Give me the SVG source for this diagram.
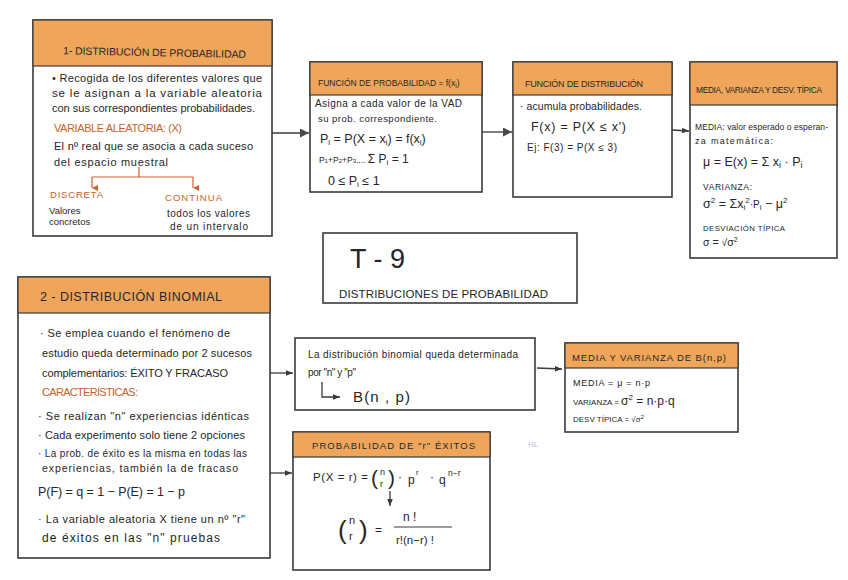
<svg xmlns="http://www.w3.org/2000/svg" width="848" height="580" viewBox="0 0 848 580">
<style>
  text { font-family: "Liberation Sans", "DejaVu Sans", sans-serif; fill: #262626; }
  .box { fill: #ffffff; stroke: #3a3a3a; stroke-width: 1.6; }
  .hdr { fill: #f0a65a; stroke: #3a3a3a; stroke-width: 1.2; }
  .b { font-size: 11px; }
  .s { font-size: 9.5px; }
  .m { font-size: 12px; }
  .or { fill: #c8622a; }
  .con { stroke: #3a3a3a; stroke-width: 1.3; fill: none; }
  .tree { stroke: #c8622a; stroke-width: 1.2; fill: none; }
</style>
<defs>
  <marker id="big" viewBox="0 0 10 10" refX="10" refY="5" markerWidth="9" markerHeight="9" markerUnits="userSpaceOnUse" orient="auto">
    <path d="M0,0 L10,5 L0,10 z" fill="#4a4a4a"/>
  </marker>
  <marker id="sm" viewBox="0 0 10 10" refX="10" refY="5" markerWidth="7" markerHeight="7" markerUnits="userSpaceOnUse" orient="auto">
    <path d="M0,1 L10,5 L0,9 z" fill="#3a3a3a"/>
  </marker>
  <marker id="om" viewBox="0 0 10 10" refX="5" refY="10" markerWidth="6" markerHeight="6" markerUnits="userSpaceOnUse" orient="auto-start-reverse">
    <path d="M0,0 L10,0 L5,10 z" fill="#c8622a"/>
  </marker>
</defs>
<rect width="848" height="580" fill="#ffffff"/>

<g id="connectors">
  <line class="con" x1="272" y1="133" x2="309" y2="133" marker-end="url(#big)"/>
  <line class="con" x1="482" y1="132" x2="512" y2="132" marker-end="url(#big)"/>
  <line class="con" x1="672" y1="130" x2="689" y2="131" marker-end="url(#sm)"/>
  <line class="con" x1="270" y1="373" x2="293" y2="373" marker-end="url(#sm)"/>
  <line class="con" x1="270" y1="473" x2="292" y2="473" marker-end="url(#sm)"/>
  <line class="con" x1="537" y1="368" x2="562" y2="369" marker-end="url(#sm)"/>
</g>

<g id="n1">
  <rect class="box" x="33" y="20" width="239" height="216"/>
  <rect class="hdr" x="33" y="20" width="239" height="46"/>
  <text x="63" y="56" font-size="10.5" textLength="183" lengthAdjust="spacing" transform="rotate(1.2 150 55)">1- DISTRIBUCIÓN DE PROBABILIDAD</text>
  <text x="52" y="82" class="b" textLength="210" lengthAdjust="spacing">• Recogida de los diferentes valores que</text>
  <text x="52" y="97" font-size="11.5" textLength="210" lengthAdjust="spacing">se le asignan a la variable aleatoria</text>
  <text x="52" y="112" class="b" textLength="203" lengthAdjust="spacing">con sus correspondientes probabilidades.</text>
  <text x="54" y="132" class="b or" textLength="128" lengthAdjust="spacing">VARIABLE ALEATORIA: (X)</text>
  <text x="54" y="150" class="b" textLength="199" lengthAdjust="spacing">El nº real que se asocia a cada suceso</text>
  <text x="54" y="166" class="b" textLength="114" lengthAdjust="spacing">del espacio muestral</text>
  <path class="tree" d="M139,167 V177 M92,177 H193"/>
  <line class="tree" x1="92" y1="177" x2="92" y2="188" marker-end="url(#om)"/>
  <line class="tree" x1="193" y1="177" x2="193" y2="188" marker-end="url(#om)"/>
  <text x="50" y="198" class="s or" textLength="53" lengthAdjust="spacing">DISCRETA</text>
  <text x="165" y="201" class="s or" textLength="57" lengthAdjust="spacing">CONTINUA</text>
  <text x="49" y="214" class="s">Valores</text>
  <text x="49" y="225" class="s">concretos</text>
  <text x="167" y="217" font-size="10" textLength="83" lengthAdjust="spacing">todos los valores</text>
  <text x="170" y="230" font-size="10" textLength="78" lengthAdjust="spacing">de un intervalo</text>
</g>

<g id="n2">
  <rect class="box" x="310" y="62" width="172" height="130"/>
  <rect class="hdr" x="310" y="62" width="172" height="33"/>
  <text x="318" y="86" font-size="8.5">FUNCIÓN DE PROBABILIDAD  =  f(x<tspan font-size="6.5" dy="2">i</tspan><tspan dy="-2">)</tspan></text>
  <text x="315" y="107" font-size="10" textLength="147" lengthAdjust="spacing">Asigna a cada valor de la VAD</text>
  <text x="318" y="122" class="s" textLength="119" lengthAdjust="spacing">su prob. correspondiente.</text>
  <text x="320" y="143" font-size="12.5">P<tspan font-size="8" dy="2">i</tspan><tspan dy="-2">  =  P(X = x</tspan><tspan font-size="8" dy="2">i</tspan><tspan dy="-2">) = f(x</tspan><tspan font-size="8" dy="2">i</tspan><tspan dy="-2">)</tspan></text>
  <text x="319" y="163" font-size="8.5">P<tspan font-size="6">1</tspan>+P<tspan font-size="6">2</tspan>+P<tspan font-size="6">3</tspan>....    <tspan font-size="12">Σ P</tspan><tspan font-size="8" dy="2">i</tspan><tspan font-size="12" dy="-2"> = 1</tspan></text>
  <text x="328" y="185" font-size="12.5">0 ≤  P<tspan font-size="8" dy="2">i</tspan><tspan dy="-2">  ≤ 1</tspan></text>
</g>

<g id="n3">
  <rect class="box" x="513" y="62" width="159" height="135"/>
  <rect class="hdr" x="513" y="62" width="159" height="33"/>
  <text x="525" y="87" font-size="9" textLength="118" lengthAdjust="spacing">FUNCIÓN DE DISTRIBUCIÓN</text>
  <text x="520" y="110" font-size="10.5" textLength="122" lengthAdjust="spacing">· acumula probabilidades.</text>
  <text x="531" y="131" font-size="12.5" textLength="95" lengthAdjust="spacing">F(x) = P(X ≤ x')</text>
  <text x="527" y="151" font-size="10" textLength="90" lengthAdjust="spacing">Ej: F(3) = P(X ≤ 3)</text>
</g>

<g id="n4">
  <rect class="box" x="690" y="62" width="147" height="196"/>
  <rect class="hdr" x="690" y="62" width="147" height="43"/>
  <text x="696" y="93" font-size="8.3" textLength="126" lengthAdjust="spacing">MEDIA, VARIANZA Y DESV. TÍPICA</text>
  <text x="695" y="130" font-size="8.5" textLength="133" lengthAdjust="spacing">MEDIA: valor esperado o esperan-</text>
  <text x="695" y="144" font-size="9" textLength="78" lengthAdjust="spacing">za matemática:</text>
  <text x="703" y="166" font-size="12.5">μ = E(x) =  Σ  x<tspan font-size="9" dy="2">i</tspan><tspan dy="-2"> · P</tspan><tspan font-size="9" dy="2">i</tspan></text>
  <text x="703" y="190" font-size="8.5" textLength="49" lengthAdjust="spacing">VARIANZA:</text>
  <text x="703" y="208" font-size="12.5">σ<tspan font-size="8" dy="-5">2</tspan><tspan dy="5"> = Σx</tspan><tspan font-size="8" dy="2">i</tspan><tspan font-size="8" dy="-7">2</tspan><tspan font-size="10" dy="5">·P</tspan><tspan font-size="8" dy="2">i</tspan><tspan dy="-2">  − μ</tspan><tspan font-size="8" dy="-5">2</tspan></text>
  <text x="703" y="231" font-size="7.8" textLength="82" lengthAdjust="spacing">DESVIACIÓN TÍPICA</text>
  <text x="703" y="246" font-size="10.5">σ = √σ<tspan font-size="7" dy="-4">2</tspan></text>
</g>

<g id="n5">
  <rect class="box" x="323" y="233" width="254" height="70"/>
  <text x="350" y="268" font-size="27">T - 9</text>
  <text x="339" y="298" font-size="11.5" textLength="209" lengthAdjust="spacing">DISTRIBUCIONES DE PROBABILIDAD</text>
</g>

<g id="n6">
  <rect class="box" x="18" y="277" width="252" height="281"/>
  <rect class="hdr" x="18" y="277" width="252" height="36"/>
  <text x="40" y="301" font-size="12.5" textLength="182" lengthAdjust="spacing">2 - DISTRIBUCIÓN BINOMIAL</text>
  <text x="40" y="337" class="b" textLength="190" lengthAdjust="spacing">· Se emplea cuando el fenómeno de</text>
  <text x="42" y="357" class="b" textLength="210" lengthAdjust="spacing">estudio queda determinado por 2 sucesos</text>
  <text x="42" y="377" class="b" textLength="186" lengthAdjust="spacing">complementarios: ÉXITO Y FRACASO</text>
  <text x="42" y="396" class="b or" textLength="96" lengthAdjust="spacing">CARACTERÍSTICAS:</text>
  <text x="38" y="420" class="b" textLength="211" lengthAdjust="spacing">· Se realizan "n" experiencias idénticas</text>
  <text x="38" y="439" class="b" textLength="207" lengthAdjust="spacing">· Cada experimento solo tiene 2 opciones</text>
  <text x="38" y="457" font-size="10" textLength="209" lengthAdjust="spacing">· La prob. de éxito es la misma en todas las</text>
  <text x="42" y="472" font-size="10.5" textLength="196" lengthAdjust="spacing">experiencias, también la de fracaso</text>
  <text x="38" y="496" font-size="12.5" textLength="147" lengthAdjust="spacing">P(F) = q = 1 − P(E) = 1 − p</text>
  <text x="38" y="523" class="b" textLength="207" lengthAdjust="spacing">· La variable aleatoria X tiene un nº "r"</text>
  <text x="42" y="542" font-size="12" textLength="178" lengthAdjust="spacing">de éxitos en las "n" pruebas</text>
</g>

<g id="n7">
  <rect class="box" x="295" y="338" width="240" height="72"/>
  <text x="308" y="358" font-size="10" textLength="210" lengthAdjust="spacing">La distribución binomial queda determinada</text>
  <text x="308" y="376" font-size="10" textLength="48" lengthAdjust="spacing">por "n" y "p"</text>
  <path class="con" d="M322,382 V397 H340" marker-end="url(#sm)"/>
  <text x="353" y="402" font-size="15" textLength="57" lengthAdjust="spacing">B(n , p)</text>
</g>

<g id="n8">
  <rect class="box" x="565" y="343" width="173" height="89"/>
  <rect class="hdr" x="565" y="343" width="173" height="25"/>
  <text x="572" y="361" font-size="9.5" textLength="154" lengthAdjust="spacing">MEDIA Y VARIANZA DE B(n,p)</text>
  <text x="573" y="386" font-size="9" textLength="77" lengthAdjust="spacing">MEDIA = μ = n·p</text>
  <text x="573" y="405" font-size="8">VARIANZA = <tspan font-size="12">σ</tspan><tspan font-size="8" dy="-5">2</tspan><tspan font-size="12" dy="5"> = n·p·q</tspan></text>
  <text x="573" y="422" font-size="8">DESV TÍPICA = √σ<tspan font-size="6" dy="-3">2</tspan></text>
</g>

<g id="n9">
  <rect class="box" x="293" y="432" width="197" height="138"/>
  <rect class="hdr" x="293" y="432" width="197" height="25"/>
  <text x="312" y="449" font-size="9.5" textLength="163" lengthAdjust="spacing">PROBABILIDAD DE "r" ÉXITOS</text>
  <text x="313" y="481" font-size="11.5" textLength="55" lengthAdjust="spacing">P(X = r) =</text>
  <text x="371" y="485" font-size="21" font-weight="300">(</text>
  <text x="380" y="475" font-size="9">n</text>
  <text x="380" y="487" font-size="9">r</text>
  <text x="388" y="485" font-size="21" font-weight="300">)</text>
  <text x="398" y="481" font-size="12">·</text>
  <text x="408" y="484" font-size="12">p</text>
  <text x="416" y="475" font-size="8">r</text>
  <text x="430" y="481" font-size="12">·</text>
  <text x="439" y="484" font-size="12">q</text>
  <text x="448" y="476" font-size="8.5">n−r</text>
  <line class="con" x1="390" y1="491" x2="390" y2="506" marker-end="url(#sm)"/>
  <text x="338" y="539" font-size="26" font-weight="300">(</text>
  <text x="349" y="524" font-size="11">n</text>
  <text x="349" y="540" font-size="11">r</text>
  <text x="359" y="539" font-size="26" font-weight="300">)</text>
  <text x="375" y="534" font-size="12">=</text>
  <text x="403" y="521" font-size="12">n !</text>
  <line x1="394" y1="527" x2="452" y2="527" stroke="#3a3a3a" stroke-width="1"/>
  <text x="396" y="544" font-size="11.5">r!(n−r) !</text>
</g>

<text x="528" y="447" font-size="8" style="fill:#b8c0d8">HL</text>
</svg>
